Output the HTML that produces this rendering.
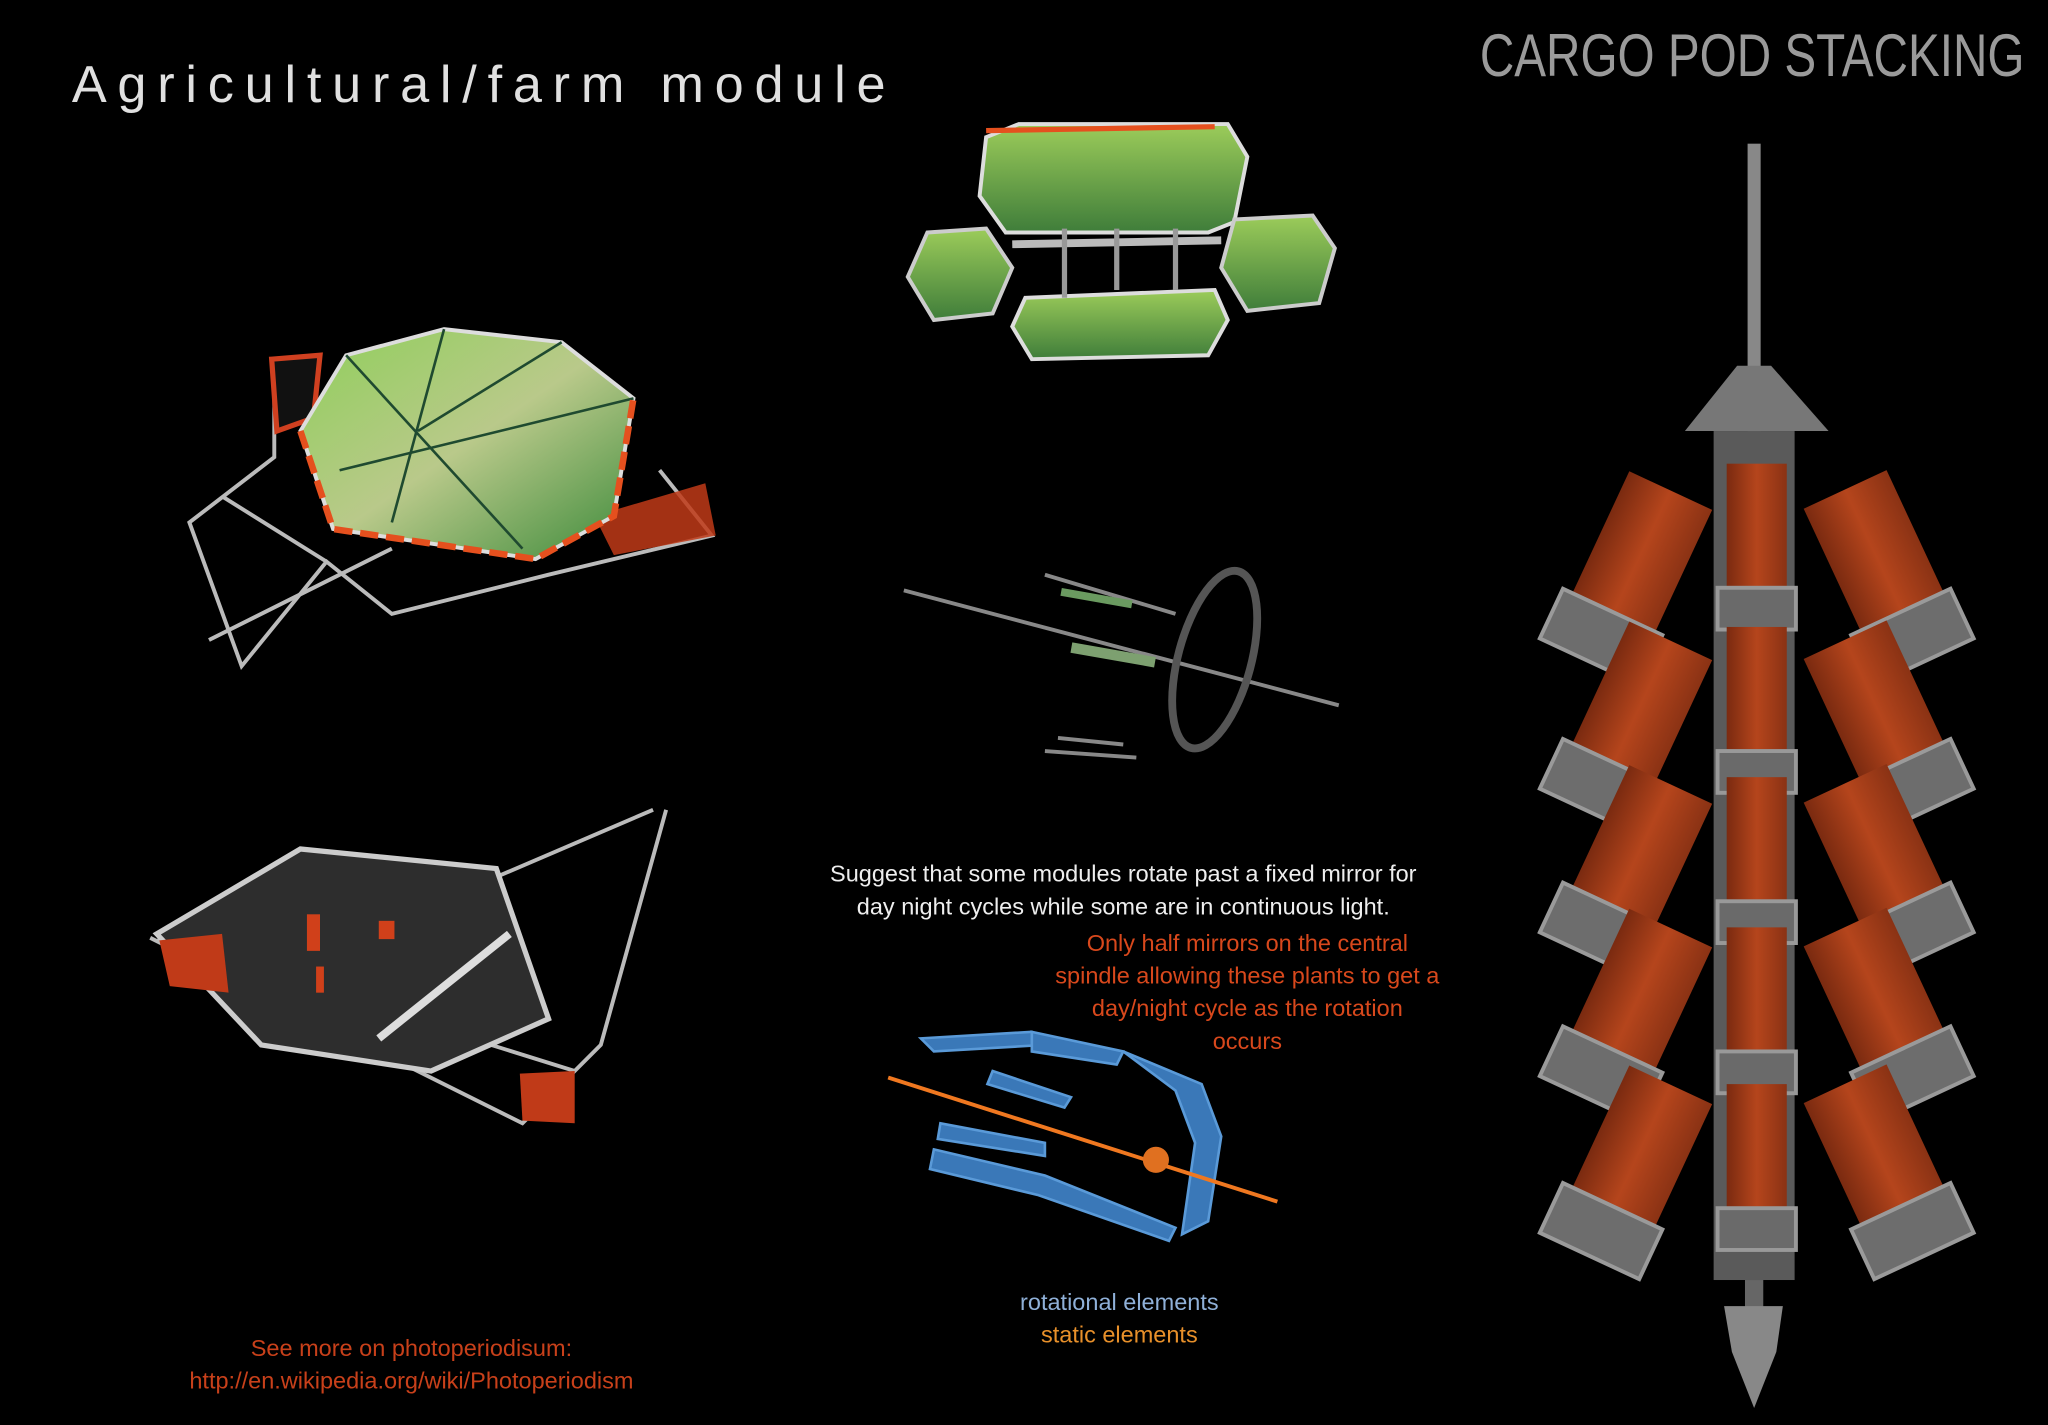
<!DOCTYPE html>
<html><head><meta charset="utf-8"><style>
html,body{margin:0;padding:0;background:#000;}
body{width:2048px;height:1425px;overflow:hidden;position:relative;}
svg{position:absolute;left:0;top:0;}
.t{font-family:"Liberation Sans",sans-serif;}
</style></head><body>
<svg width="2048" height="1425" viewBox="0 0 1568 1091" preserveAspectRatio="none">
<defs>
<linearGradient id="g1" x1="0" y1="0" x2="1" y2="1"><stop offset="0" stop-color="#8fcf5a"/><stop offset="0.5" stop-color="#b9c98a"/><stop offset="1" stop-color="#3c8a3a"/></linearGradient>
<linearGradient id="g2" x1="0" y1="0" x2="0" y2="1"><stop offset="0" stop-color="#9ccc5a"/><stop offset="1" stop-color="#3f7d3a"/></linearGradient>
<linearGradient id="or" x1="0" y1="0" x2="1" y2="0"><stop offset="0" stop-color="#7a2a10"/><stop offset="0.5" stop-color="#b5451c"/><stop offset="1" stop-color="#8a3214"/></linearGradient>
<g id="lp"><rect x="-34" y="-55" width="70" height="105" fill="url(#or)"/><rect x="-42" y="48" width="84" height="42" fill="#6d6d6d" stroke="#9a9a9a" stroke-width="3"/></g>
<g id="cp"><rect x="-23" y="-50" width="46" height="95" fill="url(#or)"/><rect x="-30" y="45" width="60" height="32" fill="#6a6a6a" stroke="#999" stroke-width="3"/></g>
</defs>
<rect width="1568" height="1091" fill="#000"/>
<text x="55" y="78" class="t" font-size="40" fill="#e0e0e0" textLength="623" lengthAdjust="spacing">Agricultural/farm module</text>
<text x="1133" y="58" class="t" font-size="46" fill="#9a9a9a" textLength="417" lengthAdjust="spacingAndGlyphs">CARGO POD STACKING</text>

<g stroke="#bbb" stroke-width="3" fill="none">
<polyline points="210,280 210,350 145,400 185,510 250,430 300,470 420,440 545,410 505,360"/>
<line x1="160" y1="490" x2="300" y2="420"/><line x1="250" y1="430" x2="170" y2="380"/>
</g>
<polygon points="208,275 245,272 240,320 212,330" fill="#111" stroke="#d04020" stroke-width="4"/>
<polygon points="455,395 540,370 548,410 470,425" fill="#c03a18" opacity="0.85"/>
<polygon points="230,330 265,272 340,252 430,262 485,305 470,395 410,428 255,405" fill="url(#g1)" stroke="#ddd" stroke-width="3"/>
<g stroke="#1f4a30" stroke-width="2" fill="none"><line x1="340" y1="252" x2="300" y2="400"/><line x1="430" y1="262" x2="320" y2="330"/><line x1="265" y1="272" x2="400" y2="420"/><line x1="485" y1="305" x2="260" y2="360"/></g>
<polyline points="230,330 255,405 410,428 470,395 485,305" fill="none" stroke="#e5501e" stroke-width="5" stroke-dasharray="14 6"/>

<g stroke="#bbb" stroke-width="3" fill="none"><polyline points="115,718 400,860 460,800 510,620"/><line x1="360" y1="680" x2="500" y2="620"/><line x1="120" y1="720" x2="440" y2="820"/></g>
<polygon points="120,715 230,650 380,665 420,780 330,820 200,800" fill="#2d2d2d" stroke="#ccc" stroke-width="4"/>
<polygon points="122,720 170,715 175,760 130,755" fill="#c03a18"/>
<polygon points="398,822 440,820 440,860 400,858" fill="#c03a18"/>
<rect x="235" y="700" width="10" height="28" fill="#d0401a"/><rect x="290" y="705" width="12" height="14" fill="#d0401a"/><rect x="242" y="740" width="6" height="20" fill="#d0401a"/>
<line x1="290" y1="795" x2="390" y2="715" stroke="#ddd" stroke-width="6"/>

<polygon points="755,105 780,95 940,95 955,120 945,170 925,178 770,178 750,150" fill="url(#g2)" stroke="#ddd" stroke-width="3"/>
<line x1="755" y1="100" x2="930" y2="97" stroke="#e5501e" stroke-width="4"/>
<polygon points="710,178 755,175 775,205 760,240 715,245 695,212" fill="url(#g2)" stroke="#ccc" stroke-width="3"/>
<polygon points="945,168 1005,165 1022,190 1010,232 955,238 935,205" fill="url(#g2)" stroke="#ccc" stroke-width="3"/>
<polygon points="785,228 930,222 940,245 925,272 790,275 775,250" fill="url(#g2)" stroke="#ddd" stroke-width="3"/>
<line x1="775" y1="187" x2="935" y2="184" stroke="#bbb" stroke-width="6"/>
<g stroke="#999" stroke-width="4"><line x1="815" y1="175" x2="815" y2="228"/><line x1="855" y1="175" x2="855" y2="222"/><line x1="900" y1="175" x2="900" y2="222"/></g>

<g stroke="#888" stroke-width="3" fill="none">
<line x1="692" y1="452" x2="1025" y2="540"/><ellipse cx="930" cy="505" rx="28" ry="70" transform="rotate(15 930 505)" stroke="#555" stroke-width="6"/>
<line x1="800" y1="440" x2="900" y2="470"/><line x1="800" y1="575" x2="870" y2="580"/><line x1="810" y1="565" x2="860" y2="570"/>
</g>
<rect x="820" y="497" width="65" height="8" fill="#7da070" transform="rotate(10 850 500)"/>
<rect x="812" y="455" width="55" height="6" fill="#6a9a60" transform="rotate(10 840 458)"/>

<g fill="#3a78b8" stroke="#5a9ad8" stroke-width="2">
<polygon points="705,795 790,790 800,800 715,805"/><polygon points="790,790 860,805 855,815 790,805"/>
<polygon points="860,805 920,830 935,870 925,935 905,945 915,875 900,835"/>
<polygon points="715,880 800,900 900,940 895,950 795,915 712,895"/>
<polygon points="720,860 800,875 800,885 718,872"/><polygon points="760,820 820,840 815,848 756,830"/>
</g>
<line x1="680" y1="825" x2="978" y2="920" stroke="#f07820" stroke-width="3"/>
<circle cx="885" cy="888" r="10" fill="#e07020"/>

<g class="t" font-size="18" text-anchor="middle">
<text x="860" y="675" fill="#eee">Suggest that some modules rotate past a fixed mirror for</text>
<text x="860" y="700" fill="#eee">day night cycles while some are in continuous light.</text>
<text x="955" y="728" fill="#d8481c">Only half mirrors on the central</text>
<text x="955" y="753" fill="#d8481c">spindle allowing these plants to get a</text>
<text x="955" y="778" fill="#d8481c">day/night cycle as the rotation</text>
<text x="955" y="803" fill="#d8481c">occurs</text>
<text x="857" y="1003" fill="#8fb0d8">rotational elements</text>
<text x="857" y="1028" fill="#e8902a">static elements</text>
<text x="315" y="1038" fill="#c8401a">See more on photoperiodisum:</text>
<text x="315" y="1063" fill="#c8401a">http://en.wikipedia.org/wiki/Photoperiodism</text>
</g>

<rect x="1338" y="110" width="10" height="240" fill="#888"/>
<polygon points="1330,280 1356,280 1400,330 1290,330" fill="#777"/>
<rect x="1336" y="980" width="14" height="30" fill="#666"/>
<polygon points="1320,1000 1365,1000 1360,1035 1343,1078 1326,1035" fill="#888"/>
<rect x="1312" y="330" width="62" height="650" fill="#5a5a5a"/>
<g>
<use href="#cp" x="1345" y="405"/><use href="#cp" x="1345" y="530"/><use href="#cp" x="1345" y="645"/><use href="#cp" x="1345" y="760"/><use href="#cp" x="1345" y="880"/>
<g transform="translate(1255,425) rotate(25)"><use href="#lp"/></g>
<g transform="translate(1255,540) rotate(25)"><use href="#lp"/></g>
<g transform="translate(1255,650) rotate(25)"><use href="#lp"/></g>
<g transform="translate(1255,760) rotate(25)"><use href="#lp"/></g>
<g transform="translate(1255,880) rotate(25)"><use href="#lp"/></g>
<g transform="translate(1435,425) rotate(-25)"><use href="#lp"/></g>
<g transform="translate(1435,540) rotate(-25)"><use href="#lp"/></g>
<g transform="translate(1435,650) rotate(-25)"><use href="#lp"/></g>
<g transform="translate(1435,760) rotate(-25)"><use href="#lp"/></g>
<g transform="translate(1435,880) rotate(-25)"><use href="#lp"/></g>
</g>
</svg>
</body></html>
